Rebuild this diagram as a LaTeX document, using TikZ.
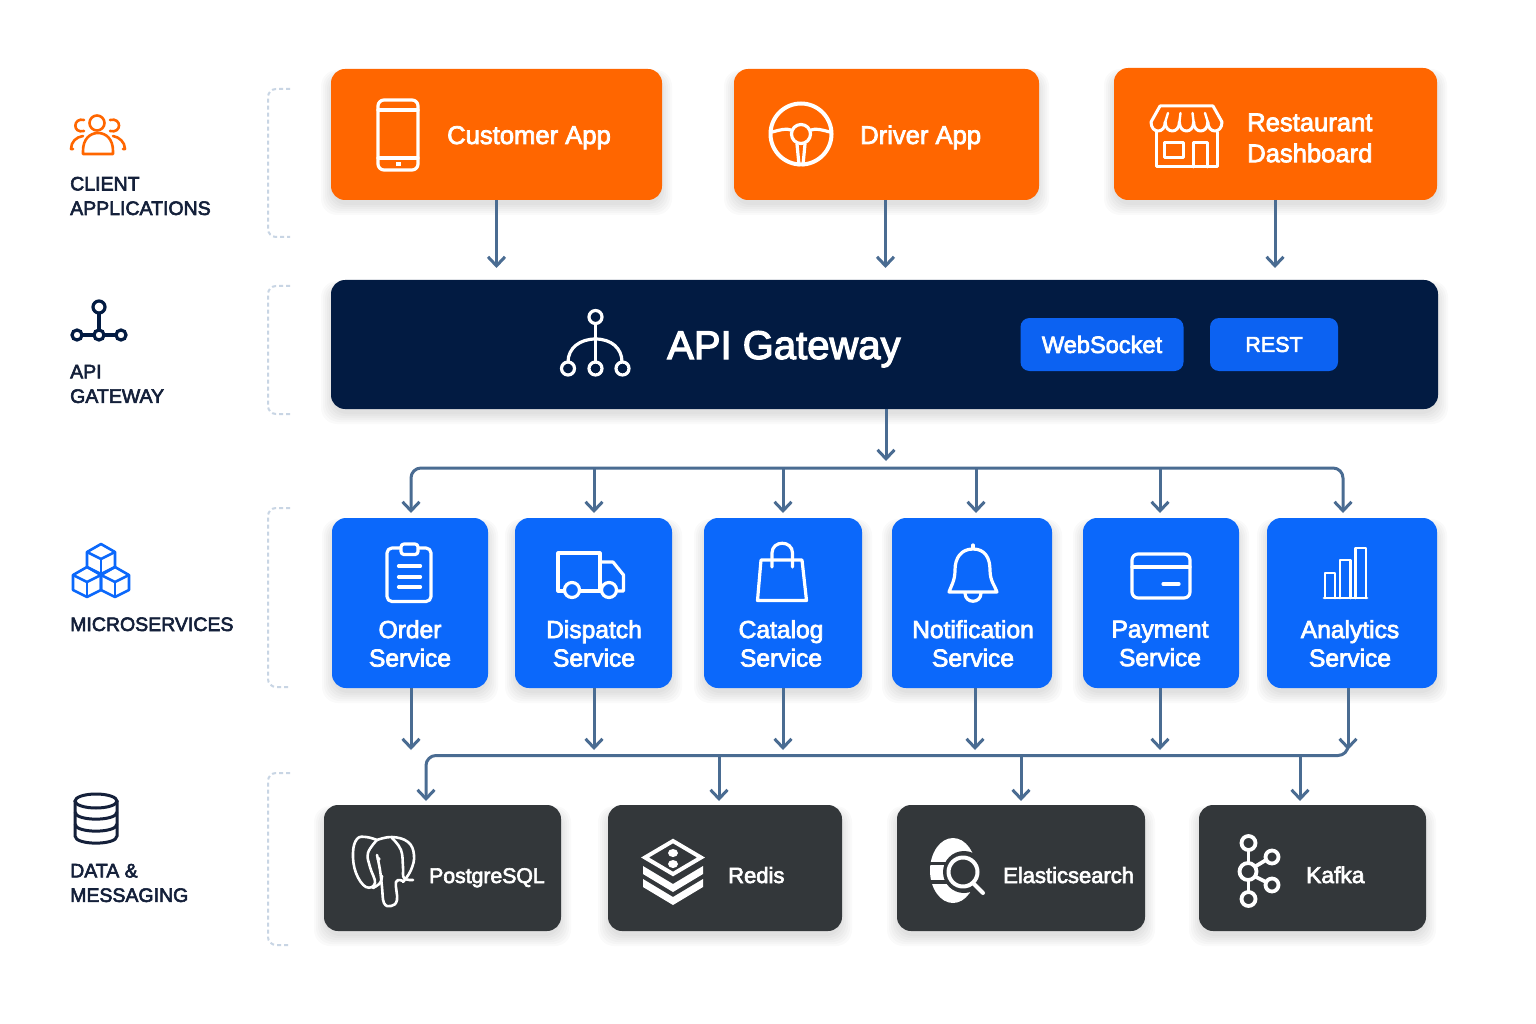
\documentclass[tikz,border=0pt]{standalone}
\usepackage{fontspec}
\setmainfont{Liberation Sans}
\newfontfamily\medf[FakeBold=3]{Liberation Sans}
\newfontfamily\medl[FakeBold=3]{Liberation Sans}
\usetikzlibrary{arrows.meta,calc}
\definecolor{cOrange}{HTML}{FF6600}
\definecolor{cNavy}{HTML}{021B42}
\definecolor{cBlue}{HTML}{0B68FB}
\definecolor{cPill}{HTML}{0C62F2}
\definecolor{cDark}{HTML}{33373A}
\definecolor{cLine}{HTML}{4A6C92}
\definecolor{cInk}{HTML}{14203A}
\definecolor{cDash}{HTML}{C8D5E4}
\tikzset{
  box/.style={inner sep=0pt,outer sep=0pt,rounded corners=14pt},
  pill/.style={box,rounded corners=9pt,fill=cPill},
  barb/.tip={Straight Barb[length=9pt,width=17pt,line width=3pt]},
  conn/.style={draw=cLine,line width=3pt,-barb},
  connboth/.style={draw=cLine,line width=3pt,barb-barb,rounded corners=10pt},
  connstart/.style={draw=cLine,line width=3pt,barb-,rounded corners=10pt},
  bracket/.style={draw=cDash,line width=2pt,dash pattern=on 4pt off 3pt,rounded corners=8pt},
  icon/.style={draw=white,line width=3.2pt,line join=round,line cap=round},
  lab/.style={font=\fontsize{19.5}{24.5}\selectfont\medl,text=cInk,align=left,inner sep=0pt},
  tA/.style={font=\fontsize{25.6}{31}\selectfont\medf,text=white,align=left,inner sep=0pt},
  tS/.style={font=\fontsize{24.6}{28.5}\selectfont\medf,text=white,align=center,inner sep=0pt},
  tD/.style={font=\fontsize{22}{26}\selectfont\medf,text=white,anchor=base west,inner sep=0pt},
}
\newcommand\softshadow[4]{%
  \foreach \g in {0,2,4,6,8,10}{%
    \fill[black,opacity=.02,rounded corners=16pt] (#1-\g,#2+6-\g*.5) rectangle (#3+\g,#4+5+\g);
  }%
}
\newcommand\card[6]{%
  \softshadow{#3}{#4}{#5}{#6}%
  \pgfmathsetmacro\cardx{(#3+#5)/2}\pgfmathsetmacro\cardy{(#4+#6)/2}%
  \pgfmathsetmacro\cardw{#5-#3}\pgfmathsetmacro\cardh{#6-#4}%
  \node[box,fill=#1,minimum width=\cardw pt,minimum height=\cardh pt] (#2) at (\cardx,\cardy) {};%
}
\begin{document}
\begin{tikzpicture}[x=1pt,y=-1pt]
\useasboundingbox (0,0) rectangle (1536,1024);
\fill[white] (0,0) rectangle (1536,1024);

% ---- layer brackets
\draw[bracket] (290,89) -| (268,237) -- (290,237);
\draw[bracket] (290,286) -| (268,414) -- (290,414);
\draw[bracket] (290,508) -| (268,687) -- (290,687);
\draw[bracket] (290,773) -| (268,945) -- (290,945);

% ---- left labels
\node[lab,anchor=west] (lClient) at (70,196) {CLIENT\\APPLICATIONS};
\node[lab,anchor=west] (lApi) at (70,384) {API\\GATEWAY};
\node[lab,anchor=base west] (lMicro) at (70,631) {MICROSERVICES};
\node[lab,anchor=west] (lData) at (70,883) {DATA \&\\MESSAGING};

% people icon
\begin{scope}[draw=cOrange,line width=2.6pt,line cap=round,line join=round]
\draw (97,123) circle[radius=7.5pt];
\draw (83,154) -- (83,151) .. controls (83,139) and (90,133) .. (98,133) .. controls (106,133) and (113,139) .. (113,151) -- (113,154) -- cycle;
\draw (84,120) .. controls (73,117) and (72,134) .. (84,131);
\draw (110,120) .. controls (122,117) and (122,134) .. (110,131);
\draw (73,149) -- (71,149) .. controls (71,142) and (76,137) .. (83,136);
\draw (123,149) -- (125,149) .. controls (125,142) and (119,137) .. (113,136);
\end{scope}
% gateway hub icon
\begin{scope}[draw=cNavy,line width=3.2pt]
\draw (99,313) -- (99,330);
\draw (82,335) -- (94,335);
\draw (104,335) -- (116,335);
\draw (99,307) circle[radius=6pt];
\draw (77,335) circle[radius=5pt];
\draw (99,335) circle[radius=5pt];
\draw (121,335) circle[radius=5pt];
\end{scope}
% cubes icon
\begin{scope}[draw=cBlue,line width=2.6pt,line join=round]
\foreach \cx/\cy in {101/551,87/574,115/574}{
  \draw (\cx,\cy-7) -- (\cx+14,\cy+1) -- (\cx+14,\cy+16) -- (\cx,\cy+23) -- (\cx-14,\cy+16) -- (\cx-14,\cy+1) -- cycle;
  \draw (\cx-14,\cy+1) -- (\cx,\cy+8) -- (\cx+14,\cy+1);
  \draw (\cx,\cy+8) -- (\cx,\cy+23);
}
\end{scope}
% database icon
\begin{scope}[draw=cInk,line width=3pt]
\draw (96,801) ellipse[x radius=21pt,y radius=7pt];
\draw (75,801) -- (75,836) .. controls (75,845.5) and (117,845.5) .. (117,836) -- (117,801);
\draw (75,812) .. controls (75,821.5) and (117,821.5) .. (117,812);
\draw (75,824) .. controls (75,833.5) and (117,833.5) .. (117,824);
\end{scope}

% ---- client apps
\card{cOrange}{custapp}{331}{69}{662}{200}
\card{cOrange}{drvapp}{734}{69}{1039}{200}
\card{cOrange}{restapp}{1114}{68}{1437}{200}
\node[tA,anchor=base west] (tCust) at (447,144) {Customer App};
\node[tA,anchor=base west] (tDrv) at (860,144) {Driver App};
\node[tA,anchor=west] (tRest) at (1247,138) {Restaurant\\Dashboard};
% phone
\begin{scope}[icon]
\draw[rounded corners=6pt] (378,100) rectangle (418,170);
\draw (378,110) -- (418,110);
\draw (378,158) -- (418,158);
\fill[white] (395.5,162) rectangle (400.5,166);
\end{scope}
% wheel
\begin{scope}[icon]
\draw[line width=4pt] (801,134) circle[radius=30.5pt];
\draw (801,134) circle[radius=9.5pt];
\draw (772,132) .. controls (780,130) and (786,128) .. (791,130);
\draw (811,130) .. controls (816,128) and (822,130) .. (830,132);
\draw (797,144) -- (799,165);
\draw (805,144) -- (803,165);
\end{scope}
% store
\begin{scope}[icon,line width=3pt]
\draw (1151,122) -- (1160,106) -- (1213,106) -- (1222,122);
\foreach \xa in {1151,1165.2,1179.4,1193.6,1207.8}{
  \pgfmathsetmacro\xb{\xa+14.2}
  \draw (\xa,122) .. controls (\xa,134) and (\xb,134) .. (\xb,122);
}
\foreach \xa/\xt in {1165.2/1168,1179.4/1180.5,1193.6/1192.5,1207.8/1205}{
  \draw[line width=2.4pt] (\xa,122) -- (\xt,113);
}
\draw (1156,132) -- (1156,167) -- (1217,167) -- (1217,132);
\draw (1164,143) rectangle (1183,158);
\draw (1193,167) -- (1193,143) -- (1207,143) -- (1207,167);
\end{scope}

% ---- gateway
\card{cNavy}{gateway}{331}{280}{1438}{409}
\node[font=\fontsize{40}{44}\selectfont\medf,text=white,anchor=base west,inner sep=0pt] (tGate) at (667,359) {API Gateway};
\begin{scope}[icon]
\draw (595.5,324) -- (595.5,339);
\draw (568,362) .. controls (568,348) and (580,339) .. (595.5,339) .. controls (611,339) and (622,348) .. (622,362);
\draw (595.5,339) -- (595.5,362);
\draw (595.5,317) circle[radius=6.5pt];
\draw (568,368.5) circle[radius=6.5pt];
\draw (595.5,368.5) circle[radius=6.5pt];
\draw (622.5,368.5) circle[radius=6.5pt];
\end{scope}
\node[pill,minimum width=163pt,minimum height=53pt,font=\fontsize{23.6}{26}\selectfont\medf,text=white] (ws) at (1102,344.5) {WebSocket};
\node[pill,minimum width=128pt,minimum height=53pt,font=\fontsize{21.5}{26}\selectfont\medf,text=white] (rest) at (1274,344.5) {REST};

% ---- services
\card{cBlue}{svcOrder}{332}{518}{488}{688}
\card{cBlue}{svcDisp}{515}{518}{672}{688}
\card{cBlue}{svcCat}{704}{518}{862}{688}
\card{cBlue}{svcNote}{892}{518}{1052}{688}
\card{cBlue}{svcPay}{1083}{518}{1239}{688}
\card{cBlue}{svcAna}{1267}{518}{1437}{688}
\node[tS] (tOrder) at (410,643.5) {Order\\Service};
\node[tS] (tDisp) at (594,643.5) {Dispatch\\Service};
\node[tS] (tCat) at (781,643.5) {Catalog\\Service};
\node[tS] (tNote) at (973,643.5) {Notification\\Service};
\node[tS] (tPay) at (1160,643.5) {Payment\\Service};
\node[tS] (tAna) at (1350,643.5) {Analytics\\Service};
% clipboard
\begin{scope}[icon]
\draw[rounded corners=5pt] (387,548) rectangle (431,601.5);
\filldraw[fill=cBlue,rounded corners=3pt] (401,544) rectangle (418,554.5);
\draw (398.5,566) -- (420.5,566);
\draw (398.5,577) -- (420.5,577);
\draw (398.5,587) -- (420.5,587);
\end{scope}
% truck
\begin{scope}[icon]
\draw (564,591) -- (558,591) -- (558,553) -- (600,553) -- (600,591);
\draw (580,591) -- (601,591);
\draw (600,562) -- (613,562) -- (623.5,575) -- (623.5,591) -- (617,591);
\draw (572,590) circle[radius=7.5pt];
\draw (609,590) circle[radius=7.5pt];
\end{scope}
% bag
\begin{scope}[icon]
\draw (761,560) -- (802,560) -- (806.5,600.5) -- (757.5,600.5) -- cycle;
\draw (772,567) -- (772,553) .. controls (772,540) and (792.5,540) .. (792.5,553) -- (792.5,567);
\end{scope}
% bell
\begin{scope}[icon]
\draw (973,549) .. controls (961,549) and (955,558) .. (955,570) .. controls (955,581) and (951,586) .. (949,592) -- (997,592) .. controls (995,586) and (990,581) .. (990,570) .. controls (990,558) and (985,549) .. (973,549) -- cycle;
\draw (973,548) -- (973,545);
\draw (965,593) .. controls (965,604) and (981,604) .. (981,593);
\end{scope}
% card
\begin{scope}[icon]
\draw[rounded corners=6pt] (1132,554) rectangle (1190,598);
\draw (1132,567) -- (1190,567);
\draw (1163,584) -- (1179,584);
\end{scope}
% bars
\begin{scope}[icon,line width=2.8pt]
\draw (1324,598) -- (1367,598);
\draw (1325,598) -- (1325,573) -- (1335,573) -- (1335,598);
\draw (1340,598) -- (1340,560) -- (1350.5,560) -- (1350.5,598);
\draw (1355.5,598) -- (1355.5,548) -- (1366,548) -- (1366,598);
\end{scope}

% ---- data
\card{cDark}{dbPg}{324}{805}{561}{931}
\card{cDark}{dbRedis}{608}{805}{842}{931}
\card{cDark}{dbEs}{897}{805}{1145}{931}
\card{cDark}{dbKafka}{1199}{805}{1426}{931}
\node[tD,font=\fontsize{21.2}{26}\selectfont\medf] (tPg) at (429,883) {PostgreSQL};
\node[tD] (tRedis) at (728,883) {Redis};
\node[tD] (tEs) at (1003,883) {Elasticsearch};
\node[tD,font=\fontsize{22.8}{26}\selectfont\medf] (tKafka) at (1306,883) {Kafka};
% elephant
\begin{scope}[icon,line width=2.6pt]
\draw plot[smooth,tension=.7] coordinates {(377,840) (366,837) (357,839) (353,853) (356,873) (366,887) (375,883) (370,867) (368,853) (377,840)};
\draw plot[smooth,tension=.7] coordinates {(377,840) (392,837) (408,842) (414,855) (411,870) (403,882)};
\draw plot[smooth,tension=.7] coordinates {(392,838) (401,850) (403,867) (404,878) (413,880)};
\draw plot[smooth,tension=.7] coordinates {(377,855) (380,870) (382,887) (384,903) (391,906) (397,900) (396,882) (403,881)};
\draw plot[smooth,tension=.7] coordinates {(373,888) (380,883) (382,876)};
\fill[white] (378.5,859) circle[radius=2pt];
\end{scope}
% redis
\fill[white] (643,866) -- (673,884) -- (703,866) -- (703,874) -- (673,892) -- (643,874) -- cycle;
\fill[white] (643,879) -- (673,897) -- (703,879) -- (703,887) -- (673,905) -- (643,887) -- cycle;
\draw[icon,line width=4pt,fill=cDark,line join=miter] (673,841) -- (701,857.5) -- (673,874) -- (645,857.5) -- cycle;
\fill[white] (673,853) ellipse[x radius=5pt,y radius=4pt];
\fill[white] (673,864) ellipse[x radius=5pt,y radius=4pt];
% elastic
\fill[white] (953,870.5) ellipse[x radius=23pt,y radius=32.5pt];
\fill[cDark] (964,872) circle[radius=21pt];
\fill[cDark] (928,861.5) rectangle (950,865);
\fill[cDark] (928,880) rectangle (950,883.5);
\begin{scope}[icon]
\draw[line width=4pt] (963,872) circle[radius=14.5pt];
\draw[line width=4pt] (974,884) -- (983,893);
\end{scope}
% kafka
\begin{scope}[icon,line width=3.8pt]
\draw (1248.5,850) -- (1248.5,862);
\draw (1248.5,881) -- (1248.5,892);
\draw (1256,866) -- (1266,860);
\draw (1256,877) -- (1266,882);
\draw (1248.5,843) circle[radius=7pt];
\draw (1248,871.5) circle[radius=8.5pt];
\draw (1248.5,899) circle[radius=7pt];
\draw (1272,857) circle[radius=6.5pt];
\draw (1272,885) circle[radius=6.5pt];
\end{scope}

% ---- connectors: clients -> gateway
\coordinate (inA) at (496.5,268);
\coordinate (inB) at (885.5,268);
\coordinate (inC) at (1275,268);
\draw[conn] (custapp.south -| inA) -- (inA);
\draw[conn] (drvapp.south -| inB) -- (inB);
\draw[conn] (restapp.south -| inC) -- (inC);

% gateway -> service bus
\coordinate (busIn) at (886,461);
\coordinate (bus1) at (886,468);
\coordinate (d1) at (411,513);
\coordinate (d2) at (594,513);
\coordinate (d3) at (783,513);
\coordinate (d4) at (976,513);
\coordinate (d5) at (1160,513);
\coordinate (d6) at (1343,513);
\draw[conn] (gateway.south -| busIn) -- (busIn);
\draw[connboth] (d1) |- (bus1) -| (d6);
\draw[conn] (d2 |- bus1) -- (d2);
\draw[conn] (d3 |- bus1) -- (d3);
\draw[conn] (d4 |- bus1) -- (d4);
\draw[conn] (d5 |- bus1) -- (d5);

% services -> data bus
\coordinate (e1) at (411,750);
\coordinate (e2) at (594,750);
\coordinate (e3) at (783,750);
\coordinate (e4) at (975,750);
\coordinate (e5) at (1160,750);
\coordinate (e6) at (1348,750);
\draw[conn] (svcOrder.south -| e1) -- (e1);
\draw[conn] (svcDisp.south -| e2) -- (e2);
\draw[conn] (svcCat.south -| e3) -- (e3);
\draw[conn] (svcNote.south -| e4) -- (e4);
\draw[conn] (svcPay.south -| e5) -- (e5);
\draw[conn] (svcAna.south -| e6) -- (e6);
\coordinate (busR) at (1348,755.5);
\coordinate (f1) at (426,801);
\coordinate (f2) at (719,801);
\coordinate (f3) at (1021,801);
\coordinate (f4) at (1300,801);
\draw[connstart] (f1) |- (busR) -- (1348,745);
\draw[conn] (f2 |- busR) -- (f2);
\draw[conn] (f3 |- busR) -- (f3);
\draw[conn] (f4 |- busR) -- (f4);
\end{tikzpicture}
\end{document}
